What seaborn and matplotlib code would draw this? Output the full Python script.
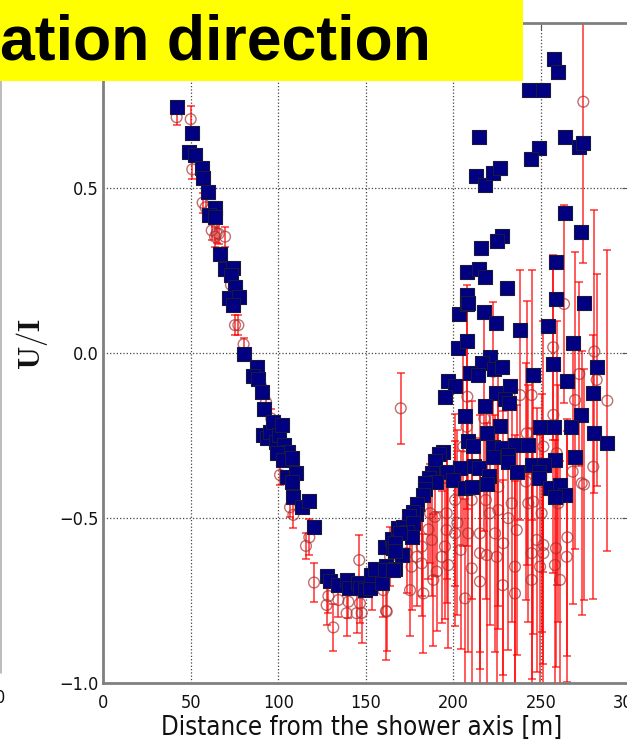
import matplotlib
matplotlib.use("Agg")
import matplotlib.pyplot as plt
import seaborn as sns
from matplotlib import font_manager
from matplotlib.patches import Rectangle
from matplotlib.lines import Line2D

# blue squares
sq_x = [42.0, 50.9, 49.2, 52.6, 56.6, 56.8, 60.1, 64.0, 60.4, 64.0, 66.9, 69.4, 74.0, 73.0, 75.5,
        71.7, 77.7, 74.0, 80.4, 88.0, 85.4,
        88.7, 90.5, 92.0, 91.0, 93.5, 95.5, 97.0, 98.5, 100.5, 102.0, 103.5, 105.5,
        99.1, 102.9, 107.6, 104.8, 110.1, 107.6, 108.2, 113.4, 117.7, 120.4, 127.6, 129.5, 134.3,
        139.0, 140.5, 145.7, 146.6, 149.5, 152.3, 152.7, 155.2, 159.0, 161.5, 166.6, 160.9, 164.7,
        168.5, 165.6,
        203.0, 207.9, 217.6, 224.3, 238.0, 254.1, 202.8, 207.5, 268.0, 274.3, 220.8, 216.1, 223.3,
        227.9, 209.4, 214.2, 256.6, 281.7, 245.2, 264.6, 197.0, 200.9, 195.1, 232.2, 224.3, 279.8,
        217.8, 229.4, 231.9, 206.6, 272.8, 226.5, 249.4, 257.4, 266.9, 219.0, 280.4, 287.8, 208.4,
        210.9, 222.7, 227.5, 235.1, 242.4, 194.2, 191.9, 222.7, 231.3, 257.9, 269.4, 189.4, 231.3,
        203.7, 211.7, 214.7, 244.6, 251.6, 187.6, 196.1, 236.1, 249.0, 220.4, 186.2, 190.0, 199.5,
        249.0, 219.3, 183.7, 206.6, 210.4, 255.1, 261.0, 263.6, 257.9, 183.7, 182.4, 179.3, 178.6,
        177.1, 174.8, 171.0, 177.1, 173.6, 176.1, 169.5, 166.6, 170.4, 166.6, 160.9, 165.6,
        257.4, 259.6, 243.3, 251.3, 214.7, 263.5, 249.0, 244.1, 271.8, 274.1, 212.8, 218.0, 222.7,
        226.5, 263.6, 272.6, 227.5, 225.0, 215.7, 207.5, 214.4, 217.8, 258.5, 230.7, 207.5, 208.4,
        258.3]
sq_y = [0.743, 0.664, 0.609, 0.598, 0.558, 0.528, 0.487, 0.437, 0.417, 0.412, 0.298, 0.252, 0.255,
        0.235, 0.199, 0.164, 0.167, 0.144, -0.003, -0.043, -0.071,
        -0.08, -0.12, -0.17, -0.25, -0.26, -0.24, -0.21, -0.27, -0.25, -0.22, -0.28, -0.30,
        -0.306, -0.326, -0.321, -0.376, -0.364, -0.391, -0.437, -0.467, -0.449, -0.530, -0.677,
        -0.692, -0.705, -0.689, -0.715, -0.697, -0.715, -0.720, -0.715, -0.674, -0.657, -0.697,
        -0.647, -0.657, -0.588, -0.566, -0.533, -0.593,
        0.117, 0.147, 0.123, 0.090, 0.068, 0.080, 0.013, 0.036, 0.028, 0.149, -0.015, -0.031,
        -0.051, -0.043, -0.061, -0.068, -0.035, -0.043, -0.069, -0.085, -0.085, -0.101, -0.134,
        -0.101, -0.122, -0.122, -0.162, -0.142, -0.152, -0.192, -0.189, -0.223, -0.227, -0.227,
        -0.227, -0.245, -0.243, -0.273, -0.267, -0.283, -0.285, -0.290, -0.280, -0.280, -0.300,
        -0.308, -0.316, -0.311, -0.326, -0.316, -0.328, -0.331, -0.351, -0.344, -0.349, -0.341,
        -0.341, -0.364, -0.361, -0.361, -0.361, -0.374, -0.381, -0.391, -0.386, -0.381, -0.398,
        -0.395, -0.410, -0.407, -0.412, -0.402, -0.432, -0.437, -0.415, -0.432, -0.459, -0.489,
        -0.482, -0.495, -0.528, -0.516, -0.543, -0.560, -0.548, -0.578, -0.614, -0.601, -0.659,
        -0.659,
        0.888, 0.849, 0.795, 0.795, 0.654, 0.654, 0.621, 0.585, 0.624, 0.634, 0.536, 0.509, 0.545,
        0.559, 0.424, 0.364, 0.353, 0.339, 0.317, 0.244, 0.252, 0.230, 0.273, 0.196, 0.174, 0.149,
        0.162]

# red open circles with error bars
ci_x = [42.0, 50.0, 50.9, 56.8, 58.5, 62.0, 64.8, 69.6, 63.9, 66.0, 73.0, 75.3, 77.2, 80.2,
        90.0, 93.0, 96.0, 98.0,
        101.0, 106.7, 108.6, 117.7, 115.8, 120.4, 127.6, 128.6, 131.4, 134.3, 139.0, 140.0, 144.7,
        146.2, 146.6, 147.6, 153.3, 159.9, 161.5, 163.8, 169.9,
        161.9, 175.2, 176.1, 173.3, 179.0, 181.9, 181.9, 182.8, 185.7, 186.6, 187.6, 188.5, 190.4,
        193.3, 196.1, 196.1, 197.0, 202.2, 204.1, 205.6, 206.6, 207.5, 207.9, 208.4, 210.4, 215.1,
        215.1, 217.6, 219.0, 220.8, 222.7, 224.7, 225.6, 225.6, 228.1, 231.3, 233.2, 235.1, 235.1,
        236.1, 238.0, 241.4, 241.8, 242.7, 244.6, 244.6, 245.6, 249.4, 251.3, 251.3, 251.3, 256.9,
        257.0, 257.9, 258.5, 258.9, 259.8, 260.8, 263.1, 265.0, 268.0, 269.4, 271.8, 273.2, 274.1,
        274.5, 279.8, 280.4, 281.7, 287.8,
        218.5, 195.1, 200.9, 215.1, 244.6, 247.5, 250.3, 264.6, 223.7, 228.4, 200.9, 189.4, 210.4]
ci_y = [0.713, 0.707, 0.555, 0.454, 0.44, 0.37, 0.361, 0.351, 0.351, 0.36, 0.205, 0.083, 0.083, 0.025,
        -0.10, -0.15, -0.20, -0.28,
        -0.371, -0.469, -0.492, -0.560, -0.586, -0.697, -0.765, -0.738, -0.833, -0.750, -0.790,
        -0.755, -0.790, -0.629, -0.760, -0.789, -0.710, -0.720, -0.783, -0.619, -0.169,
        -0.785, -0.720, -0.649, -0.608, -0.619, -0.588, -0.639, -0.730, -0.536, -0.487, -0.568,
        -0.689, -0.664, -0.619, -0.487, -0.538, -0.644, -0.516, -0.598, -0.285, -0.745, -0.225,
        -0.134, -0.548, -0.654, -0.694, -0.548, -0.200, -0.614, -0.487, -0.058, -0.619, -0.477,
        -0.407, -0.705, -0.502, -0.457, -0.730, -0.649, -0.538, -0.129, -0.391, -0.245, -0.457,
        -0.129, -0.689, -0.452, -0.649, -0.285, -0.608, -0.583, 0.016, -0.189, -0.644, -0.593,
        -0.305, -0.457, -0.689, 0.147, -0.560, -0.361, -0.144, -0.065, -0.396, 0.760, -0.400,
        -0.346, 0.003, -0.083, -0.146,
        -0.447, -0.588, -0.548, -0.608, -0.608, -0.568, -0.487, -0.619, -0.548, -0.578, -0.447,
        -0.498, -0.447]
ci_err = [0.025, 0.04, 0.03, 0.03, 0.03, 0.03, 0.03, 0.03, 0.03, 0.03, 0.03, 0.03, 0.03, 0.02,
          0.03, 0.03, 0.03, 0.03,
          0.03, 0.03, 0.04, 0.055, 0.04, 0.06, 0.06, 0.05, 0.07, 0.05, 0.07, 0.05, 0.06, 0.075,
          0.06, 0.09, 0.07, 0.08, 0.15, 0.09, 0.107,
          0.12, 0.14, 0.13, 0.12, 0.15, 0.15, 0.16, 0.18, 0.15, 0.15, 0.17, 0.2, 0.18, 0.2, 0.2,
          0.22, 0.25, 0.28, 0.3, 0.3, 0.3, 0.36, 0.34, 0.36, 0.36, 0.35, 0.36, 0.34, 0.4, 0.34, 0.21,
          0.4, 0.36, 0.36, 0.32, 0.4, 0.36, 0.34, 0.4, 0.38, 0.38, 0.36, 0.4, 0.36, 0.38, 0.32, 0.4,
          0.4, 0.38, 0.4, 0.36, 0.28, 0.48, 0.38, 0.36, 0.4, 0.36, 0.36, 0.3, 0.36, 0.4, 0.45,
          0.28, 0.4, 0.49, 0.35, 0.4, 0.43, 0.32, 0.456,
          0.3, 0.22, 0.28, 0.35, 0.38, 0.4, 0.36, 0.38, 0.36, 0.4, 0.26, 0.18, 0.3]

sns.set_style("white")
plt.rcParams['mathtext.fontset'] = 'cm'

# the slide squeezed the plot sideways: use a narrow face if there is one
fonts = font_manager.fontManager.ttflist
if any(f.name == 'Liberation Sans Narrow' for f in fonts):
    axfont = dict(family='Liberation Sans Narrow', stretch='normal')
    tick_size, label_size = 15, 22
elif any(f.name == 'DejaVu Sans' and f.stretch == 'condensed' for f in fonts):
    axfont = dict(family='DejaVu Sans', stretch='condensed')
    tick_size, label_size = 13, 18.5
else:
    axfont = dict(family='DejaVu Sans', stretch='normal')
    tick_size, label_size = 12.5, 16.8
plt.rcParams['font.family'] = [axfont['family'], 'DejaVu Sans']
plt.rcParams['font.stretch'] = axfont['stretch']

fig = plt.figure(figsize=(6.27, 7.43), dpi=100)
ax = fig.add_axes([0.1644, 0.0814, 0.8383, 0.8883])

ax.errorbar(ci_x, ci_y, yerr=ci_err, fmt='none', ecolor='#ff0000', elinewidth=1.25,
            capsize=3, capthick=1.2, alpha=0.72, zorder=2)
sns.scatterplot(x=ci_x, y=ci_y, ax=ax, marker='o', s=60, facecolors='none',
                edgecolor='#a83030', linewidth=1.0, alpha=0.7, zorder=3)
sns.scatterplot(x=sq_x, y=sq_y, ax=ax, marker='s', s=90, color='#000080',
                edgecolor='#1a1a40', linewidth=0.8, zorder=4)

ax.set_xlim(0, 300)
ax.set_ylim(-1.0, 1.0)
ax.set_xticks(range(0, 301, 50))
ax.set_yticks([-1.0, -0.5, 0.0, 0.5])
ax.grid(True, linestyle=':', color='#444444', linewidth=0.9)
ax.tick_params(axis='both', which='major', labelsize=tick_size, direction='in', length=5,
               color='#555555', top=True, right=True, labelcolor='#111111')
ax.tick_params(axis='x', pad=8)
ax.tick_params(axis='y', pad=3)
for sp in ax.spines.values():
    sp.set_color('#808080')
    sp.set_linewidth(2)

ax.set_xlabel('Distance from the shower axis [m]', fontsize=label_size, color='#111111')
ax.xaxis.label.set_va('baseline')
ax.xaxis.set_label_coords(0.4926, -0.0795)
ax.set_ylabel(r'$\mathbf{U/I}$', fontsize=22, color='#111111')
ax.yaxis.label.set(ha='center', va='center', rotation_mode='anchor')
ax.yaxis.set_label_coords(-0.135, 0.513)

# yellow title banner over the top of the panel
fig.add_artist(Rectangle((0, 1 - 81 / 743), 523 / 627, 81 / 743, transform=fig.transFigure,
                         facecolor='#ffff00', edgecolor='none', zorder=5))
fig.text(0.0, 1 - 59 / 743, 'ation direction', fontsize=45, fontweight='bold', color='black',
         family=['Liberation Sans', 'DejaVu Sans'], stretch='normal', ha='left', va='baseline',
         zorder=6)

# edge of the neighbouring panel on the left
fig.add_artist(Line2D([0.001, 0.001], [1 - 673 / 743, 1 - 81 / 743], transform=fig.transFigure,
                      color='#b0b0b0', linewidth=1.2))
fig.text(0.0, 1 - 698 / 743, '0', fontsize=tick_size, ha='center', va='center', color='#111111')

fig.savefig('out.png', dpi=100)
